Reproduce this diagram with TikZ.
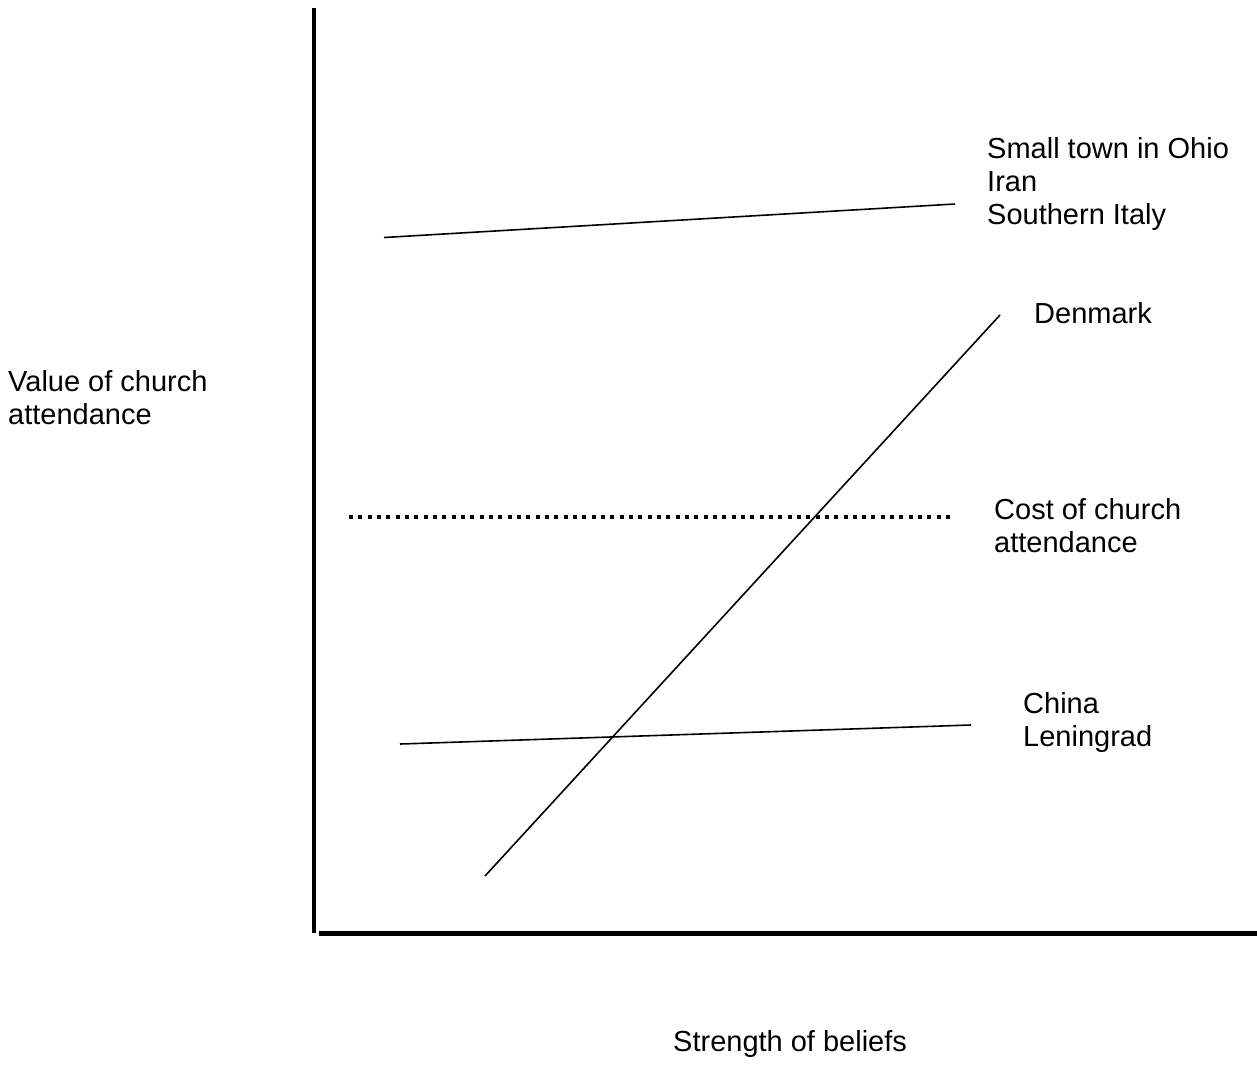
\documentclass[tikz,border=0pt]{standalone}
\usepackage{fontspec}
\setmainfont{Liberation Sans}
\tikzset{
  lbl/.style={anchor=base west, inner sep=0pt, font=\fontsize{29}{33}\selectfont, align=left},
  axisline/.style={line width=4.5pt},
  curve/.style={line width=1.6pt},
  costline/.style={line width=4pt, dash pattern=on 4pt off 5.33pt}
}
\begin{document}
\begin{tikzpicture}[x=1pt,y=-1pt]
\useasboundingbox (0,0) rectangle (1257,1066);
% axes
\coordinate (ytop) at (314,8);
\coordinate (ybot) at (314,933);
\coordinate (xleft) at (319,933.5);
\coordinate (xright) at (1257,933.5);
\draw[axisline] (ytop) -- (ybot);
\draw[axisline] (xleft) -- (xright);
% lines
\coordinate (h1a) at (384,237.5);
\coordinate (h1b) at (955,204);
\draw[curve] (h1a) -- (h1b);
\coordinate (da) at (485,876);
\coordinate (db) at (1000,315);
\draw[curve] (da) -- (db);
\coordinate (h2a) at (400,744);
\coordinate (h2b) at (971,725);
\draw[curve] (h2a) -- (h2b);
\coordinate (ca) at (349,517);
\coordinate (cb) at (951,517);
\draw[costline] (ca) -- (cb);
% labels
\node[lbl] (ohio) at (987,158) {Small town in Ohio};
\node[lbl] (iran) at (987,191) {Iran};
\node[lbl] (italy) at (987,224) {Southern Italy};
\node[lbl] (denmark) at (1034,323) {Denmark};
\node[lbl] (cost1) at (994,519) {Cost of church};
\node[lbl] (cost2) at (994,552) {attendance};
\node[lbl] (china) at (1023,713) {China};
\node[lbl] (lenin) at (1023,746) {Leningrad};
\node[lbl] (val1) at (8,391) {Value of church};
\node[lbl] (val2) at (8,424) {attendance};
\node[lbl] (strength) at (673,1051) {Strength of beliefs};
\end{tikzpicture}
\end{document}
